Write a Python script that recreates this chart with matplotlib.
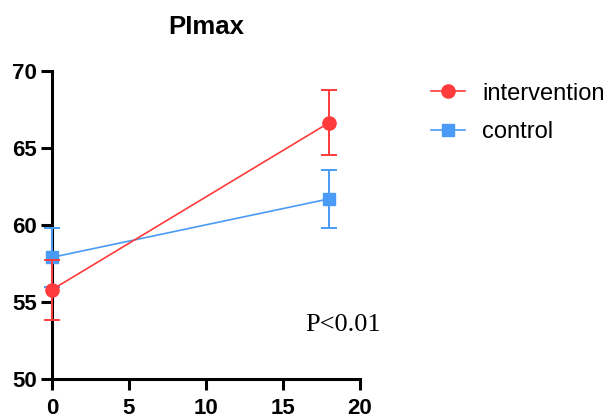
import matplotlib
matplotlib.use("Agg")
import matplotlib.pyplot as plt
from matplotlib.lines import Line2D

x_values = [0, 18]
intervention_mean = [55.8, 66.65]
intervention_err = [1.95, 2.1]
control_mean = [57.9, 61.7]
control_err = [1.9, 1.9]
x_ticks = [0, 5, 10, 15, 20]
y_ticks = [50, 55, 60, 65, 70]
series_names = ["intervention", "control"]

red = "#FF3B3B"
blue = "#4A9BF5"
sans = ["Liberation Sans", "DejaVu Sans"]

fig = plt.figure(figsize=(6.09, 4.18), dpi=100)
ax = fig.add_axes([52/609, 1 - 379/418, (360-52)/609, (379-71)/418])

e1 = ax.errorbar(x_values, intervention_mean, yerr=intervention_err, color=red, marker="o",
                 markersize=9.5, linewidth=1.2, elinewidth=1.4, capsize=6, capthick=1.4,
                 clip_on=False, zorder=4)
e2 = ax.errorbar(x_values, control_mean, yerr=control_err, color=blue, marker="s",
                 markersize=9, linewidth=1.2, elinewidth=1.4, capsize=6, capthick=1.4,
                 clip_on=False, zorder=3)
for e in (e1, e2):
    for art in e.lines[1] + e.lines[2]:
        art.set_clip_on(False)
    e.lines[0].set_clip_on(False)

ax.set_xlim(0, 20)
ax.set_ylim(50, 70)
ax.set_xticks(x_ticks)
ax.set_yticks(y_ticks)
for s in ("top", "right"):
    ax.spines[s].set_visible(False)
for s in ("left", "bottom"):
    ax.spines[s].set_linewidth(2.2)
    ax.spines[s].set_zorder(2)
ax.tick_params(direction="out", length=8, width=2.2, labelsize=16, pad=3)
ax.tick_params(axis="x", pad=5.5)
for lab in ax.get_xticklabels() + ax.get_yticklabels():
    lab.set_fontweight("bold")
    lab.set_family(sans)

fig.text(206/609, 1 - 27/418, "PImax", ha="center", va="center", fontsize=18.5,
         fontweight="bold", family=sans)

ax.text(18.9, 53.5, "P<0.01", ha="center", va="center", fontsize=19,
        family=["Liberation Serif", "DejaVu Serif"])

handles = [Line2D([], [], color=red, marker="o", markersize=9.5, linewidth=1.2),
           Line2D([], [], color=blue, marker="s", markersize=9, linewidth=1.2)]
fig.legend(handles, series_names, loc="upper left", bbox_to_anchor=(414/609, 1 - 66/418),
           frameon=False, handlelength=1.45, handletextpad=0.75, labelspacing=0.69,
           borderpad=0.2, prop={"family": sans, "size": 17})

fig.savefig("out.png", dpi=100)
